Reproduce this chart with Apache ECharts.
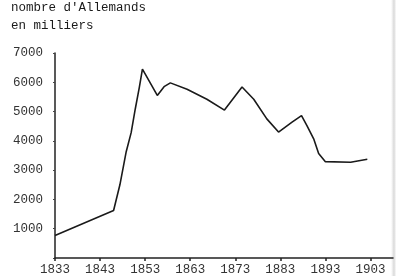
<!DOCTYPE html>
<html>
<head>
<meta charset="utf-8">
<script src="https://cdn.jsdelivr.net/npm/echarts@6/dist/echarts.min.js"></script>
<style>
html,body{margin:0;padding:0;background:#fff;}
#c{width:404px;height:276px;}
</style>
</head>
<body>
<div id="c"></div>
<script>
const titleLines = ["nombre d'Allemands", "en milliers"];
const years = [1833, 1846, 1847.4, 1848.8, 1849.9, 1850.8, 1851.7, 1852.4, 1855.7, 1857.2, 1858.6, 1862.3, 1866.7, 1870.6, 1874.5, 1877.1, 1880, 1882.6, 1885.6, 1887.7, 1888.9, 1890.4, 1891.5, 1893, 1898.6, 1902.3];
const values = [770, 1620, 2500, 3630, 4280, 5080, 5820, 6450, 5550, 5850, 5980, 5760, 5420, 5050, 5840, 5420, 4750, 4300, 4640, 4860, 4520, 4070, 3570, 3290, 3270, 3370];
const xTicks = [1833, 1843, 1853, 1863, 1873, 1883, 1893, 1903];
const yTicks = [1000, 2000, 3000, 4000, 5000, 6000, 7000];

const data = years.map((y, i) => [y, values[i]]);
const font = "'Liberation Mono', 'DejaVu Sans Mono', monospace";
const chart = echarts.init(document.getElementById('c'));
chart.setOption({
  animation: false,
  backgroundColor: '#fff',
  title: {
    text: titleLines.join('\n'),
    left: 11, top: -1, padding: 0,
    textStyle: { fontFamily: font, fontSize: 12.5, fontWeight: 'normal', color: '#1a1a1a', lineHeight: 18 }
  },
  grid: { left: 55, right: 11, top: 53, bottom: 15, containLabel: false },
  xAxis: {
    type: 'value', min: 1833, max: 1908, interval: 10,
    splitLine: { show: false },
    axisLine: { lineStyle: { color: '#222', width: 1.5 } },
    axisTick: { show: true, length: 3, inside: false, lineStyle: { color: '#222', width: 1.5 },
      customValues: xTicks },
    axisLabel: {
      fontFamily: font, fontSize: 12.5, color: '#333', margin: 5,
      customValues: xTicks,
      formatter: v => xTicks.includes(v) ? String(v) : ''
    }
  },
  yAxis: {
    type: 'value', min: 0, max: 7000, interval: 1000,
    splitLine: { show: false },
    axisLine: { show: true, lineStyle: { color: '#222', width: 1.5 } },
    axisTick: { show: true, length: 2, lineStyle: { color: '#444', width: 1 } },
    axisLabel: {
      fontFamily: font, fontSize: 12.5, color: '#333', margin: 12,
      formatter: v => yTicks.includes(v) ? String(v) : ''
    }
  },
  series: [{
    type: 'line', data: data, showSymbol: false, smooth: false,
    lineStyle: { color: '#1a1a1a', width: 1.6 }
  }],
  graphic: [{
    type: 'rect', left: 391, top: 0, shape: { width: 5, height: 276 },
    style: { fill: new echarts.graphic.LinearGradient(0, 0, 1, 0, [{offset: 0, color: 'rgba(200,200,200,0)'}, {offset: 0.6, color: 'rgba(190,190,190,0.6)'}, {offset: 1, color: 'rgba(220,220,220,0.2)'}]) },
    silent: true
  }]
});
</script>
</body>
</html>
